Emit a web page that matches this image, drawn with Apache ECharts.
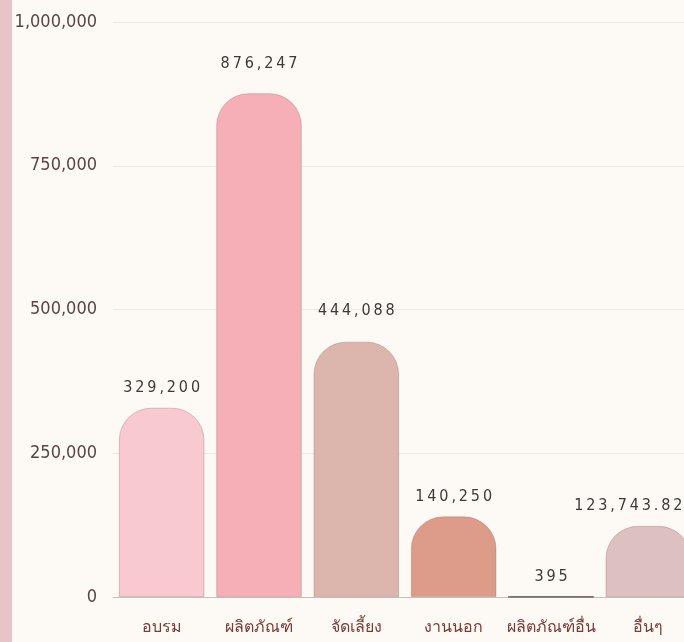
<!DOCTYPE html>
<html>
<head>
<meta charset="utf-8">
<script src="https://cdn.jsdelivr.net/npm/echarts@6/dist/echarts.min.js"></script>
<style>
  html, body { margin: 0; padding: 0; background: #fdfaf5; overflow: hidden; width: 684px; height: 642px; }
  #strip { position: absolute; left: 0; top: 0; width: 12px; height: 642px; background: #e8c3c7; }
  #chart { position: absolute; left: 0; top: 0; width: 697px; height: 642px; }
</style>
</head>
<body>
<div id="chart"></div>
<div id="strip"></div>
<script>
// Income by category
const categories = ['อบรม', 'ผลิตภัณฑ์', 'จัดเลี้ยง', 'งานนอก', 'ผลิตภัณฑ์อื่น', 'อื่นๆ'];
const values = [329200, 876247, 444088, 140250, 395, 123743.82];
const valueLabels = ['329,200', '876,247', '444,088', '140,250', '395', '123,743.82'];
const barColors = ['#f8cad0', '#f6afb6', '#dcb6ac', '#dd9b8a', '#b89a98', '#dcc1c0'];
const yTicks = [0, 250000, 500000, 750000, 1000000];
// per-bar nudges for the value labels
const labelOffsets = [[0, 0], [0, -9], [0, -11], [0, 0], [0, 0], [-20, 0]];

const chart = echarts.init(document.getElementById('chart'), null, { renderer: 'canvas' });

const numFont = '"DejaVu Sans Condensed", "Liberation Sans Narrow", sans-serif';

chart.setOption({
  backgroundColor: '#fdfaf5',
  animation: false,
  grid: { left: 113, right: 0, top: 22, bottom: 45, containLabel: false },
  xAxis: {
    type: 'category',
    data: categories,
    axisLine: { show: true, lineStyle: { color: '#c9bdbb', width: 1 } },
    axisTick: { show: false },
    axisLabel: {
      interval: 0,
      color: '#7a3b34',
      fontSize: 16,
      margin: 22,
      fontFamily: '"Noto Sans", "DejaVu Sans", sans-serif'
    }
  },
  yAxis: {
    type: 'value',
    min: 0,
    max: 1000000,
    interval: 250000,
    axisLine: { show: false },
    axisTick: { show: false },
    splitLine: { lineStyle: { color: '#efe8e2', width: 1 } },
    axisLabel: {
      color: '#5b4444',
      fontSize: 18,
      margin: 16,
      fontFamily: numFont,
      formatter: v => yTicks.includes(v) ? v.toLocaleString('en-US') : ''
    }
  },
  series: [{
    type: 'bar',
    barCategoryGap: '12%',
    data: values.map((v, i) => ({
      value: v,
      itemStyle: {
        color: barColors[i],
        borderColor: i === 4 ? '#6e5a5a' : 'rgba(150,110,105,0.35)',
        borderWidth: 1,
        borderRadius: [32, 32, 0, 0]
      },
      label: { offset: labelOffsets[i] }
    })),
    label: {
      show: true,
      position: 'top',
      distance: 12,
      color: '#3f3838',
      fontSize: 16,
      fontFamily: numFont,
      formatter: p => valueLabels[p.dataIndex].split('').join('\u2009')
    }
  }]
});
</script>
</body>
</html>
